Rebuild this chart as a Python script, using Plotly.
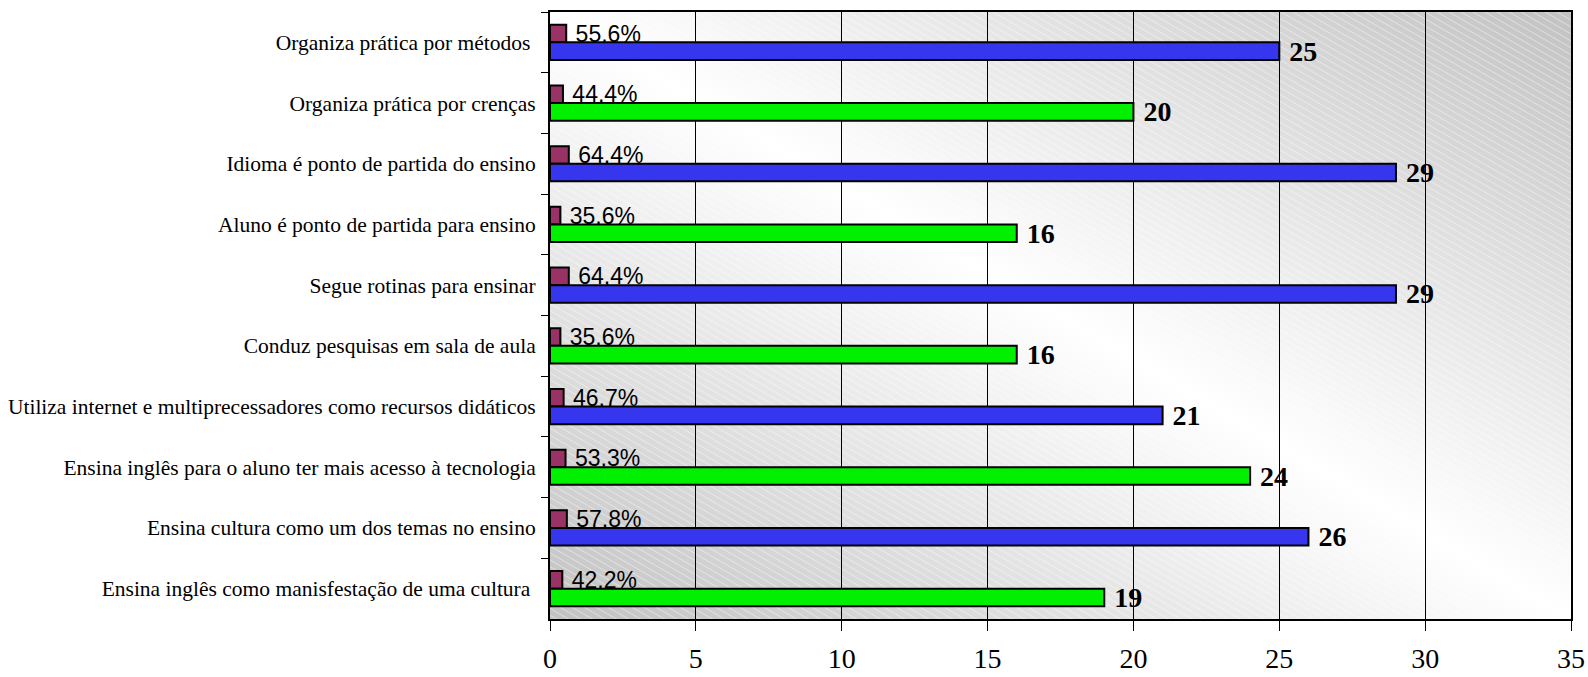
import base64
import plotly.graph_objects as go

categories = [
    "Organiza prática por métodos ",
    "Organiza prática por crenças",
    "Idioma é ponto de partida do ensino",
    "Aluno é ponto de partida para ensino",
    "Segue rotinas para ensinar",
    "Conduz pesquisas em sala de aula",
    "Utiliza internet e multiprecessadores como recursos didáticos",
    "Ensina inglês para o aluno ter mais acesso à tecnologia",
    "Ensina cultura como um dos temas no ensino",
    "Ensina inglês como manisfestação de uma cultura ",
]
counts = [25, 20, 29, 16, 29, 16, 21, 24, 26, 19]
percents = [55.6, 44.4, 64.4, 35.6, 64.4, 35.6, 46.7, 53.3, 57.8, 42.2]
x_ticks = [0, 5, 10, 15, 20, 25, 30, 35]

W, H = 1588, 677
ML, MR, MT, MB = 550, 17, 12, 58
PW, PH = W - ML - MR, H - MT - MB

main_colors = ["#3636ee" if i % 2 == 0 else "#00f000" for i in range(len(categories))]

svg = f'''<svg xmlns="http://www.w3.org/2000/svg" width="{PW}" height="{PH}" viewBox="0 0 {PW} {PH}" preserveAspectRatio="none">
<defs>
<linearGradient id="g" x1="0" y1="1" x2="1" y2="0">
<stop offset="0" stop-color="#c2c2c2"/>
<stop offset="0.5" stop-color="#ffffff"/>
<stop offset="1" stop-color="#c2c2c2"/>
</linearGradient>
<pattern id="h" width="12" height="6" patternUnits="userSpaceOnUse" patternTransform="rotate(30)">
<line x1="0" y1="0.5" x2="12" y2="0.5" stroke="#ffffff" stroke-opacity="0.4" stroke-width="1"/>
</pattern>
</defs>
<rect x="0" y="0" width="{PW}" height="{PH}" fill="url(#g)"/>
<rect x="0" y="0" width="{PW}" height="{PH}" fill="url(#h)"/>
</svg>'''
src = "data:image/svg+xml;base64," + base64.b64encode(svg.encode()).decode()

NB = "\u00a0"

fig = go.Figure()
fig.add_trace(go.Bar(
    y=categories,
    x=[p / 100 for p in percents],
    orientation="h",
    marker=dict(color="#993366", line=dict(color="black", width=2)),
    text=[NB + f"{p:.1f}%".replace(".", ",") for p in percents],
    textposition="outside",
    textfont=dict(family="Liberation Sans, Arial", size=23, color="black"),
    constraintext="none",
    cliponaxis=False,
    hoverinfo="skip",
))
fig.add_trace(go.Bar(
    y=categories,
    x=counts,
    orientation="h",
    marker=dict(color=main_colors, line=dict(color="black", width=2)),
    text=[NB + str(c) for c in counts],
    textposition="outside",
    textfont=dict(family="Liberation Serif, Times New Roman", size=28, color="black", weight="bold"),
    constraintext="none",
    cliponaxis=False,
    hoverinfo="skip",
))

fig.update_layout(
    width=W, height=H,
    margin=dict(l=ML, r=MR, t=MT, b=MB, autoexpand=False),
    barmode="group",
    bargap=0.42,
    bargroupgap=0,
    showlegend=False,
    paper_bgcolor="white",
    plot_bgcolor="rgba(0,0,0,0)",
    images=[dict(source=src, xref="paper", yref="paper", x=0, y=1, sizex=1, sizey=1,
                 xanchor="left", yanchor="top", sizing="stretch", layer="below")],
)
fig.update_xaxes(
    range=[0, 35], tickvals=x_ticks, ticktext=[str(t) for t in x_ticks],
    showgrid=True, gridcolor="black", gridwidth=1,
    showline=True, linecolor="black", linewidth=2, mirror=True,
    ticks="outside", ticklen=10, tickcolor="black", tickwidth=1,
    ticklabelstandoff=3, automargin=False,
    tickfont=dict(family="Liberation Serif, Times New Roman", size=28, color="black"),
    zeroline=False,
)
fig.update_yaxes(
    autorange="reversed",
    showgrid=False,
    showline=True, linecolor="black", linewidth=2, mirror=True,
    ticks="outside", ticklen=7, tickcolor="black", tickwidth=1,
    tickson="boundaries",
    ticklabelstandoff=8, automargin=False,
    tickfont=dict(family="Liberation Serif, Times New Roman", size=21.5, color="black"),
)

fig.write_html("out.html")
